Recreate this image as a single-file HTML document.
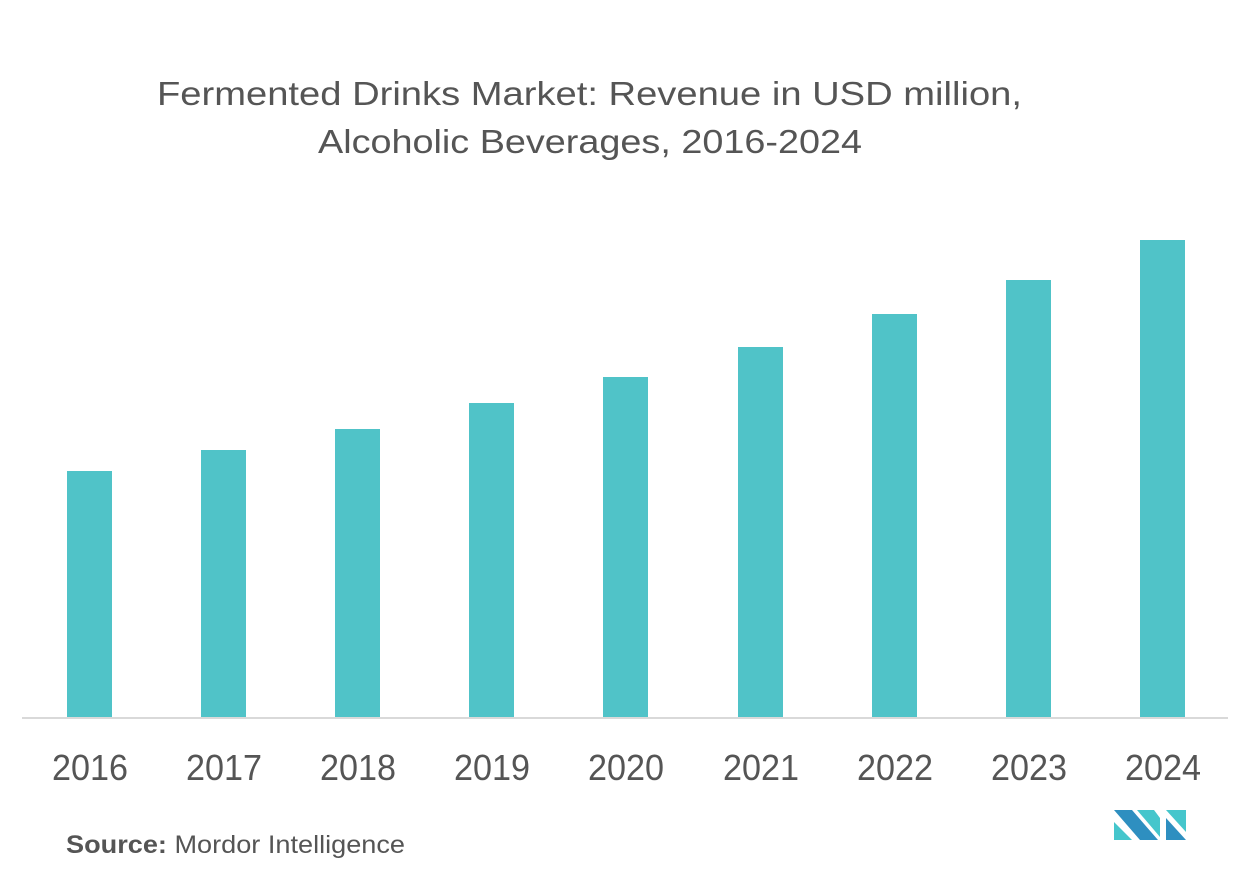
<!DOCTYPE html>
<html><head><style>body{margin:0;background:#fff}svg{display:block}</style></head><body>
<svg width="1252" height="880" xmlns="http://www.w3.org/2000/svg" font-family="Liberation Sans, sans-serif">
<text x="157" y="105" font-size="33" fill="#555" textLength="865" lengthAdjust="spacingAndGlyphs">Fermented Drinks Market: Revenue in USD million,</text>
<text x="318" y="153" font-size="33" fill="#555" textLength="544" lengthAdjust="spacingAndGlyphs">Alcoholic Beverages, 2016-2024</text>
<g fill="#50c3c8">
<rect x="67" y="471" width="45" height="247"/>
<rect x="201" y="450" width="45" height="268"/>
<rect x="335" y="429" width="45" height="289"/>
<rect x="469" y="403" width="45" height="315"/>
<rect x="603" y="377" width="45" height="341"/>
<rect x="738" y="347" width="45" height="371"/>
<rect x="872" y="314" width="45" height="404"/>
<rect x="1006" y="280" width="45" height="438"/>
<rect x="1140" y="240" width="45" height="478"/>
</g>
<rect x="22" y="717" width="1206" height="2" fill="#d9d9d9"/>
<g font-size="36" fill="#555" text-anchor="middle">
<text x="90" y="780" textLength="76" lengthAdjust="spacingAndGlyphs">2016</text><text x="224" y="780" textLength="76" lengthAdjust="spacingAndGlyphs">2017</text><text x="358" y="780" textLength="76" lengthAdjust="spacingAndGlyphs">2018</text>
<text x="492" y="780" textLength="76" lengthAdjust="spacingAndGlyphs">2019</text><text x="626" y="780" textLength="76" lengthAdjust="spacingAndGlyphs">2020</text><text x="761" y="780" textLength="76" lengthAdjust="spacingAndGlyphs">2021</text>
<text x="895" y="780" textLength="76" lengthAdjust="spacingAndGlyphs">2022</text><text x="1029" y="780" textLength="76" lengthAdjust="spacingAndGlyphs">2023</text><text x="1163" y="780" textLength="76" lengthAdjust="spacingAndGlyphs">2024</text>
</g>
<text x="66" y="853" font-size="25" fill="#555" textLength="339" lengthAdjust="spacingAndGlyphs"><tspan font-weight="bold">Source:</tspan> Mordor Intelligence</text>
<g>
<polygon points="1114,810 1132,810 1158,840 1140,840" fill="#2e8fc0"/>
<polygon points="1114,822 1132,840 1114,840" fill="#45c6cc"/>
<polygon points="1137,810 1154,810 1160,818 1160,837" fill="#45c6cc"/>
<polygon points="1166,810 1186,810 1186,832" fill="#45c6cc"/>
<polygon points="1166,818 1186,840 1166,840" fill="#2e8fc0"/>
</g>
</svg>
</body></html>
